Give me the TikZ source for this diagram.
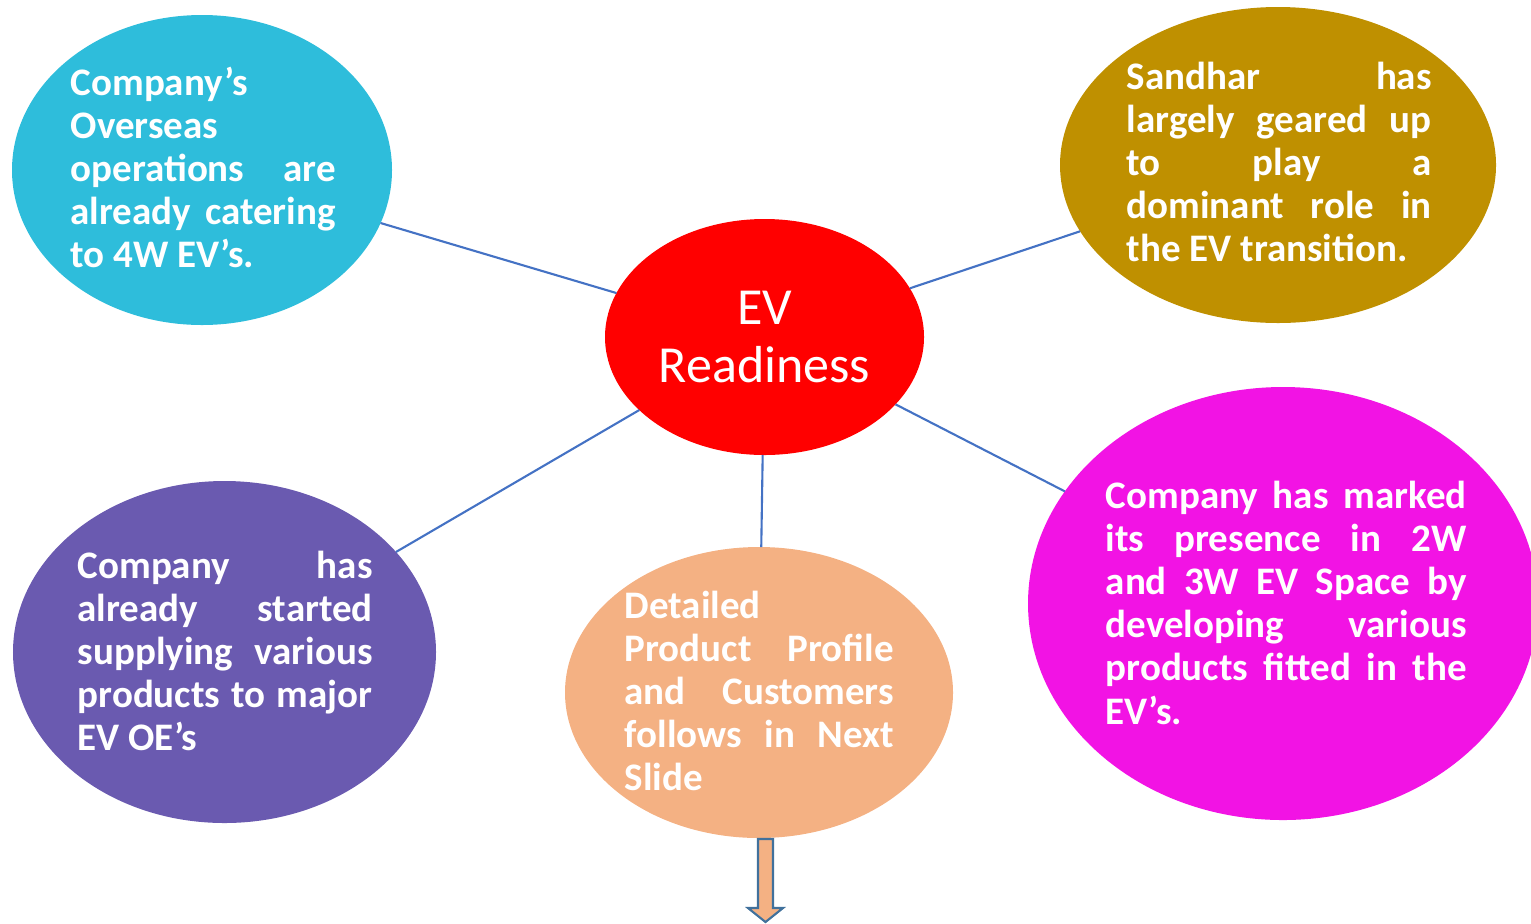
\documentclass[tikz,border=0pt]{standalone}
\usepackage{fontspec}
\setmainfont{Carlito}
\usetikzlibrary{shapes}
\definecolor{skyfill}{HTML}{2EBDDB}
\definecolor{goldfill}{HTML}{BF9000}
\definecolor{purplefill}{HTML}{6A5AB0}
\definecolor{peachfill}{HTML}{F4B183}
\definecolor{magentafill}{HTML}{F213E4}
\definecolor{linkblue}{HTML}{4472C4}
\definecolor{arrowblue}{HTML}{41719C}
\tikzstyle{bubble} = [ellipse, draw=none, inner sep=0pt, outer sep=0pt]
\tikzstyle{bubbletext} = [text=white, inner sep=0pt, align=justify,
anchor=base west, font=\bfseries\fontsize{11.1pt}{12.3pt}\selectfont]
\tikzstyle{spoke} = [draw=linkblue, line width=0.6pt]
\tikzstyle{arrowline} = [draw=arrowblue, fill=peachfill, line width=0.6pt]
\newcommand{\spokes}[2]{ %
  % Connect node #1 to all nodes #2.
  \foreach \y in {#2} { %
    \path (#1) edge [spoke] (\y) ;%
  } ;
}
\hyphenpenalty=10000
\hbadness=10000
\tikzset{
  font={\fontsize{11.1pt}{12.3pt}\selectfont}
}

\begin{document}
\begin{tikzpicture}
    \useasboundingbox (0,0) rectangle (15.31,-9.23);
    \node[bubble, fill=skyfill, minimum width=3.80cm, minimum height=3.10cm](overseas) at (2.02,-1.70) {};
    \node[bubble, fill=goldfill, minimum width=4.36cm, minimum height=3.16cm](sandhar) at (12.78,-1.65) {};
    \node[bubble, fill=red, minimum width=3.19cm, minimum height=2.36cm, text=white, align=center,
      font=\fontsize{14.8pt}{16.5pt}\selectfont](ev) at (7.645,-3.37) {EV\\Readiness};
    \node[bubble, fill=purplefill, minimum width=4.23cm, minimum height=3.42cm](supply) at (2.245,-6.52) {};
    \node[bubble, fill=peachfill, minimum width=3.88cm, minimum height=2.91cm](profile) at (7.59,-6.925) {};
    \node[bubble, fill=magentafill, minimum width=5.10cm, minimum height=4.33cm](presence) at (12.83,-6.035) {};
    \spokes{ev}{overseas,sandhar,supply,profile,presence}
    \node[bubbletext, text width=2.65cm](overseas-text) at (0.70,-0.95)
      {Company’s\linebreak Overseas\linebreak operations are\linebreak already catering\linebreak to 4W EV’s.};
    \node[bubbletext, text width=3.05cm](sandhar-text) at (11.26,-0.89)
      {Sandhar has\linebreak largely geared up\linebreak to play a\linebreak dominant role in\linebreak the EV transition.};
    \node[bubbletext, text width=2.95cm](supply-text) at (0.77,-5.78)
      {Company has\linebreak already started\linebreak supplying various\linebreak products to major\linebreak EV OE’s};
    \node[bubbletext, text width=2.69cm](profile-text) at (6.24,-6.18)
      {Detailed\linebreak Product Profile\linebreak and Customers\linebreak follows in Next\linebreak Slide};
    \node[bubbletext, text width=3.61cm](presence-text) at (11.05,-5.08)
      {Company has marked\linebreak its presence in 2W\linebreak and 3W EV Space by\linebreak developing various\linebreak products fitted in the\linebreak EV’s.};
    \coordinate (slidearrow) at (7.655,-8.39);
    \draw[arrowline] (slidearrow) ++(-0.075,0) -- ++(0,-0.69) -- ++(-0.10,0) -- ++(0.175,-0.14)
      -- ++(0.175,0.14) -- ++(-0.10,0) -- ++(0,0.69) -- cycle;
\end{tikzpicture}
\end{document}
